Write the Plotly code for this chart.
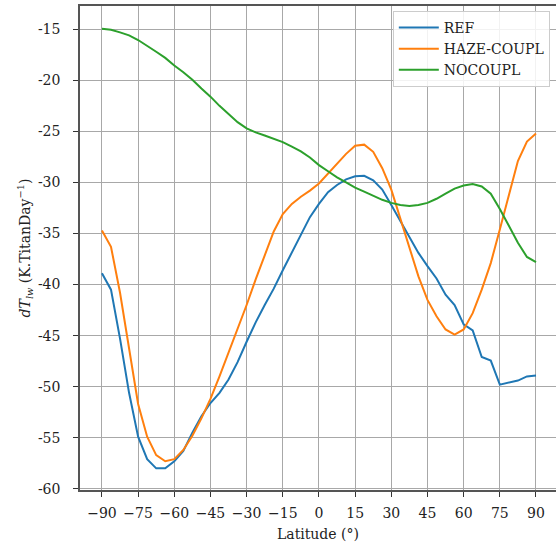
import plotly.graph_objects as go

latitude = [-90, -86.25, -82.5, -78.75, -75, -71.25, -67.5, -63.75, -60, -56.25,
            -52.5, -48.75, -45, -41.25, -37.5, -33.75, -30, -26.25, -22.5, -18.75,
            -15, -11.25, -7.5, -3.75, 0, 3.75, 7.5, 11.25, 15, 18.75,
            22.5, 26.25, 30, 33.75, 37.5, 41.25, 45, 48.75, 52.5, 56.25,
            60, 63.75, 67.5, 71.25, 75, 78.75, 82.5, 86.25, 90]

ref = [-38.9, -40.5, -45.3, -50.6, -54.9, -57.1, -58.0, -58.0, -57.3, -56.3,
       -54.5, -52.9, -51.6, -50.6, -49.3, -47.6, -45.6, -43.7, -42.0, -40.4,
       -38.6, -36.9, -35.1, -33.4, -32.1, -30.95, -30.25, -29.7, -29.4, -29.35,
       -29.8, -30.7, -32.2, -33.75, -35.3, -36.9, -38.2, -39.4, -41.0, -42.0,
       -43.9, -44.5, -47.1, -47.45, -49.8, -49.6, -49.4, -49.0, -48.9]

haze_coupl = [-34.7, -36.3, -40.8, -46.3, -51.7, -54.9, -56.7, -57.3, -57.1, -56.2,
              -54.8, -53.1, -51.2, -49.0, -46.7, -44.3, -42.0, -39.5, -37.1, -34.8,
              -33.1, -32.1, -31.4, -30.8, -30.1, -29.1, -28.1, -27.2, -26.4, -26.3,
              -27.0, -28.6, -30.7, -33.5, -36.3, -39.2, -41.5, -43.1, -44.4, -44.9,
              -44.4, -42.8, -40.5, -37.9, -34.6, -31.3, -27.9, -26.0, -25.2]

nocoupl = [-14.95, -15.05, -15.3, -15.6, -16.05, -16.6, -17.2, -17.8, -18.55, -19.2,
           -19.95, -20.8, -21.6, -22.5, -23.3, -24.1, -24.7, -25.1, -25.4, -25.7,
           -26.05, -26.5, -26.95, -27.55, -28.3, -28.9, -29.5, -30.0, -30.5, -30.9,
           -31.3, -31.7, -32.0, -32.2, -32.3, -32.2, -32.0, -31.6, -31.1, -30.6,
           -30.3, -30.15, -30.4, -31.1, -32.6, -34.2, -35.9, -37.3, -37.8]

x_tick_vals = [-90, -75, -60, -45, -30, -15, 0, 15, 30, 45, 60, 75, 90]
x_tick_text = ["\u221290", "\u221275", "\u221260", "\u221245", "\u221230", "\u221215",
               "0", "15", "30", "45", "60", "75", "90"]
y_tick_vals = [-60, -55, -50, -45, -40, -35, -30, -25, -20, -15]
y_tick_text = ["-60", "-55", "-50", "-45", "-40", "-35", "-30", "-25", "-20", "-15"]

series = [("REF", ref, "#1f77b4"),
          ("HAZE-COUPL", haze_coupl, "#ff7f0e"),
          ("NOCOUPL", nocoupl, "#2ca02c")]

FONT = "DejaVu Serif"

fig = go.Figure()
for name, vals, color in series:
    fig.add_trace(go.Scatter(x=latitude, y=vals, mode="lines", name=name,
                             line=dict(color=color, width=2)))

fig.update_layout(
    width=556, height=544,
    margin=dict(l=80, r=0, t=6, b=54),
    paper_bgcolor="white", plot_bgcolor="white",
    font=dict(family=FONT, size=14, color="#222222"),
    showlegend=True,
    legend=dict(x=0.987, y=0.99, xanchor="right", yanchor="top",
                bgcolor="rgba(255,255,255,0.85)", bordercolor="#cccccc",
                borderwidth=1, font=dict(family=FONT, size=14, color="#222222"),
                tracegroupgap=0, itemwidth=40),
    xaxis=dict(range=[-99.1, 98.3], tickvals=x_tick_vals, ticktext=x_tick_text,
               showgrid=True, gridcolor="#a8a8a8", gridwidth=1.3,
               zeroline=False, showline=True, linecolor="#555555", linewidth=1.5,
               mirror=True, ticks="outside", ticklen=5, tickcolor="#333333",
               ticklabelstandoff=4,
               tickfont=dict(family=FONT, size=14, color="#222222"),
               title=dict(text="Latitude (\u00b0)", standoff=10,
                          font=dict(family=FONT, size=14, color="#222222"))),
    yaxis=dict(range=[-60.12, -12.72], tickvals=y_tick_vals, ticktext=y_tick_text,
               showgrid=True, gridcolor="#a8a8a8", gridwidth=1.3,
               zeroline=False, showline=True, linecolor="#555555", linewidth=1.5,
               mirror=False, ticks="outside", ticklen=5, tickcolor="#333333",
               ticklabelstandoff=10,
               tickfont=dict(family=FONT, size=14, color="#222222"),
               title=dict(text="<i>dT</i><sub><i>lw</i></sub> (K.TitanDay<sup>\u22121</sup>)",
                          standoff=4,
                          font=dict(family=FONT, size=14, color="#222222"))),
)

fig.write_html("out.html", config={"displayModeBar": False},
               post_script="document.body.style.margin='0';document.body.style.overflow='hidden';")
